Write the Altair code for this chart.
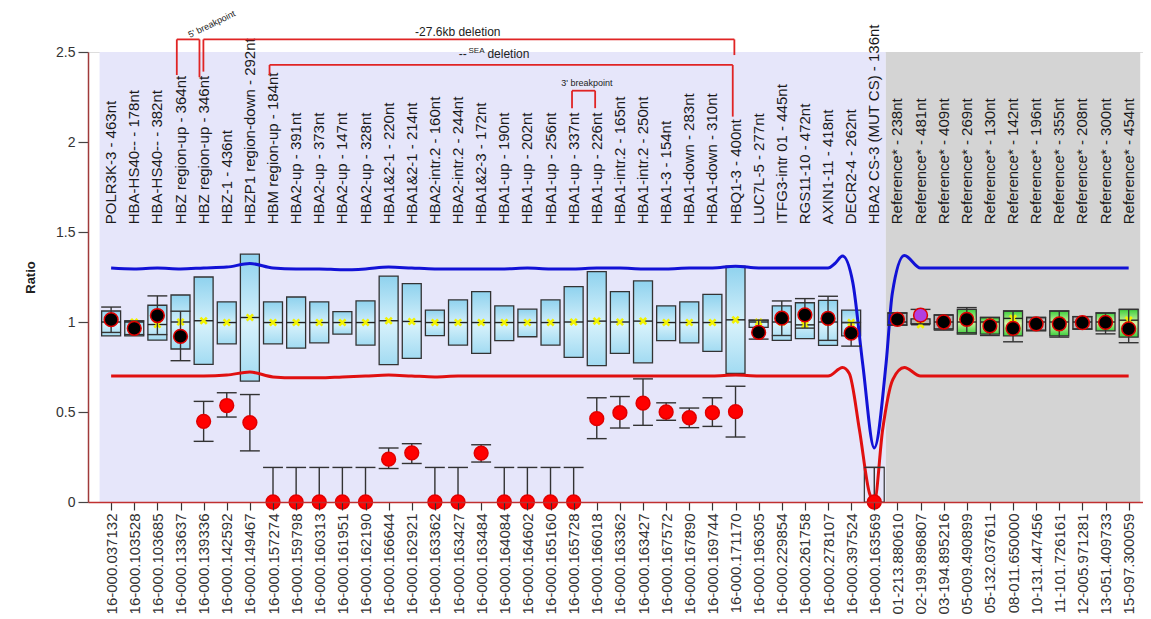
import json
import altair as alt
import pandas as pd

# ---------------- data ----------------
probe_names = [
    "POLR3K-3 - 463nt", "HBA-HS40-- - 178nt", "HBA-HS40-- - 382nt",
    "HBZ region-up - 364nt", "HBZ region-up - 346nt", "HBZ-1 - 436nt",
    "HBZP1 region-down - 292nt", "HBM region-up - 184nt", "HBA2-up - 391nt",
    "HBA2-up - 373nt", "HBA2-up - 147nt", "HBA2-up - 328nt",
    "HBA1&2-1 - 220nt", "HBA1&2-1 - 214nt", "HBA2-intr.2 - 160nt",
    "HBA2-intr.2 - 244nt", "HBA1&2-3 - 172nt", "HBA1-up - 190nt",
    "HBA1-up - 202nt", "HBA1-up - 256nt", "HBA1-up - 337nt",
    "HBA1-up - 226nt", "HBA1-intr.2 - 165nt", "HBA1-intr.2 - 250nt",
    "HBA1-3 - 154nt", "HBA1-down - 283nt", "HBA1-down - 310nt",
    "HBQ1-3 - 400nt", "LUC7L-5 - 277nt", "ITFG3-intr 01 - 445nt",
    "RGS11-10 - 472nt", "AXIN1-11 - 418nt", "DECR2-4 - 262nt",
    "HBA2 CS-3 (MUT CS) - 136nt",
    "Reference* - 238nt", "Reference* - 481nt", "Reference* - 409nt",
    "Reference* - 269nt", "Reference* - 130nt", "Reference* - 142nt",
    "Reference* - 196nt", "Reference* - 355nt", "Reference* - 208nt",
    "Reference* - 300nt", "Reference* - 454nt",
]
probe_ids = [
    "16-000.037132", "16-000.103528", "16-000.103685", "16-000.133637",
    "16-000.139336", "16-000.142592", "16-000.149467", "16-000.157274",
    "16-000.159798", "16-000.160313", "16-000.161951", "16-000.162190",
    "16-000.166644", "16-000.162921", "16-000.163362", "16-000.163427",
    "16-000.163484", "16-000.164084", "16-000.164602", "16-000.165160",
    "16-000.165728", "16-000.166018", "16-000.163362", "16-000.163427",
    "16-000.167572", "16-000.167890", "16-000.169744", "16-000.171170",
    "16-000.196305", "16-000.229854", "16-000.261758", "16-000.278107",
    "16-000.397524", "16-000.163569", "01-213.880610", "02-199.896807",
    "03-194.895216", "05-009.490899", "05-132.037611", "08-011.650000",
    "10-131.447456", "11-101.726161", "12-005.971281", "13-051.409733",
    "15-097.300059",
]
box_lo = [0.923, 0.923, 0.899, 0.85, 0.765, 0.878, 0.671, 0.878, 0.855, 0.884,
          0.933, 0.872, 0.763, 0.798, 0.924, 0.872, 0.826, 0.896, 0.918, 0.872,
          0.804, 0.758, 0.826, 0.773, 0.896, 0.884, 0.837, 0.715, 0.97, 0.898,
          0.908, 0.87, 0.923, 0.0, 0.983, 0.99, 0.961, 0.933, 0.933, 0.923,
          0.951, 0.923, 0.961, 0.951, 0.916]
box_hi = [1.061, 1.006, 1.093, 1.15, 1.25, 1.112, 1.377, 1.112, 1.139, 1.112,
          1.058, 1.117, 1.255, 1.213, 1.066, 1.123, 1.169, 1.09, 1.071, 1.123,
          1.196, 1.28, 1.169, 1.228, 1.09, 1.112, 1.154, 1.31, 1.01, 1.09,
          1.107, 1.12, 1.066, 0.192, 1.05, 1.017, 1.038, 1.07, 1.025, 1.061,
          1.025, 1.061, 1.03, 1.05, 1.07]
box_med = [1.0, 1.0, 0.986, 1.0, 1.007, 0.997, 1.025, 0.997, 0.997, 0.997,
           0.997, 0.997, 1.007, 1.003, 0.997, 0.997, 0.997, 0.997, 0.997, 0.997,
           1.0, 1.005, 1.0, 1.005, 0.997, 0.997, 0.997, 1.012, 1.0, 1.0,
           0.984, 1.0, 0.997, 0.0, 1.0, 0.985, 1.0, 1.0, 1.0, 1.02,
           1.0, 1.0, 1.0, 1.0, 1.01]
ratio = [1.013, 0.965, 1.036, 0.92, 0.448, 0.536, 0.441, 0, 0, 0,
         0, 0, 0.238, 0.273, 0, 0, 0.272, 0, 0, 0,
         0, 0.463, 0.496, 0.549, 0.50, 0.468, 0.496, 0.502, 0.942, 1.021,
         1.04, 1.02, 0.938, 0, 1.015, 1.038, 1.0, 1.015, 0.978, 0.965,
         0.99, 0.99, 0.996, 0.998, 0.962]
err_lo = [0.942, 0.93, 0.93, 0.785, 0.337, 0.472, 0.284, 0, 0, 0,
          0, 0, 0.186, 0.214, 0, 0, 0.222, 0, 0, 0,
          0, 0.352, 0.411, 0.426, 0.454, 0.413, 0.42, 0.361, 0.905, 0.925,
          0.966, 0.898, 0.866, 0, 0.983, 0.99, 0.955, 0.94, 0.925, 0.89,
          0.955, 0.916, 0.96, 0.934, 0.885]
err_hi = [1.083, 1.006, 1.145, 1.06, 0.559, 0.607, 0.597, 0.192, 0.192, 0.192,
          0.192, 0.192, 0.30, 0.324, 0.192, 0.192, 0.318, 0.192, 0.192, 0.192,
          0.192, 0.579, 0.586, 0.684, 0.551, 0.522, 0.579, 0.643, 1.01, 1.117,
          1.13, 1.143, 0.997, 0.192, 1.05, 1.07, 1.04, 1.08, 1.025, 1.061,
          1.025, 1.061, 1.03, 1.05, 1.07]
dot_type = (["normal"] * 4 + ["del"] * 24 + ["normal"] * 5 + ["del"]
            + ["normal", "mark"] + ["normal"] * 9)
box_type = (["blue"] * 33 + ["open", "gray", "gray", "gray", "green", "green",
                             "green", "gray", "green", "gray", "green", "green"])

# upper / lower limit curves
upper_x = list(range(1, 33)) + [32.3, 32.63, 33.07, 33.5, 34, 34.51, 34.78, 35.3] + list(range(36, 46))
upper_y = [1.30, 1.295, 1.30, 1.295, 1.30, 1.305, 1.325, 1.30, 1.295, 1.295,
           1.29, 1.295, 1.305, 1.30, 1.295, 1.295, 1.295, 1.295, 1.30, 1.295,
           1.295, 1.30, 1.30, 1.295, 1.295, 1.30, 1.30, 1.31, 1.30, 1.30,
           1.30, 1.30,
           1.325, 1.366, 1.22, 0.767, 0.30, 0.77, 1.16, 1.37] + [1.30] * 10
lower_x = list(range(1, 33)) + [32.63, 32.92, 33.36, 33.79, 34, 34.36, 34.8, 35.3] + list(range(36, 46))
lower_y = [0.70, 0.70, 0.70, 0.70, 0.70, 0.705, 0.722, 0.695, 0.69, 0.69,
           0.695, 0.70, 0.705, 0.70, 0.695, 0.70, 0.70, 0.70, 0.70, 0.70,
           0.70, 0.70, 0.70, 0.70, 0.70, 0.70, 0.70, 0.705, 0.70, 0.70,
           0.70, 0.70,
           0.747, 0.714, 0.40, 0.05, 0.0, 0.40, 0.68, 0.747] + [0.70] * 10

# annotation brackets: left x, right x, top level, left bottom, right bottom
br_x0 = [3.84, 4.99, 7.85, 20.93]
br_x1 = [4.82, 27.95, 27.88, 21.93]
br_top = [2.570, 2.570, 2.428, 2.285]
br_b0 = [2.372, 2.391, 2.372, 2.188]
br_b1 = [2.360, 2.483, 2.141, 2.188]

ann_text = ["5' breakpoint", "-27.6kb deletion", "--", "SEA", "deletion", "3' breakpoint"]
ann_x = [5.35, 15.99, 16.21, 16.80, 18.18, 21.57]
ann_y = [2.655, 2.613, 2.489, 2.505, 2.489, 2.330]
ann_size = [9, 12, 12, 8, 12, 9]
ann_angle = [334, 0, 0, 0, 0, 0]

region_x0 = [0.5, 34.5]
region_x1 = [34.5, 45.5]
region_fill = ["#e6e6fa", "#d4d4d4"]

# ---------------- chart ----------------
N = len(probe_names)
pos = list(range(1, N + 1))
XMAX = 45.62
FONT = "Liberation Sans"
LABEL_Y = 1.543

df = pd.DataFrame(dict(pos=pos, name=probe_names, lo=box_lo, hi=box_hi, med=box_med,
                       ratio=ratio, el=err_lo, eh=err_hi, dot=dot_type, box=box_type))
up_df = pd.DataFrame(dict(x=upper_x, y=upper_y))
lo_df = pd.DataFrame(dict(x=lower_x, y=lower_y))
br_df = pd.DataFrame(dict(x0=br_x0, x1=br_x1, top=br_top, b0=br_b0, b1=br_b1))
ann_df = pd.DataFrame(dict(x=ann_x, y=ann_y, text=ann_text, size=ann_size, angle=ann_angle))
bg_df = pd.DataFrame(dict(x0=region_x0, x1=region_x1, y0=[0, 0], y1=[2.5, 2.5], fill=region_fill))

label_expr = "[" + ",".join(json.dumps(s) for s in probe_ids) + "][round(datum.value) - 1]"

xscale = alt.Scale(domain=[0, XMAX], nice=False, zero=False)
yscale = alt.Scale(domain=[0, 2.5], nice=False, zero=False)
xaxis = alt.Axis(values=pos, labelExpr=label_expr, labelAngle=-90, title=None,
                 labelFont=FONT, labelFontSize=15, labelColor="#333333",
                 labelOverlap=False, labelFlush=False, labelBound=False,
                 tickSize=8, tickColor="#333333", tickWidth=1.2, labelPadding=3,
                 domainColor="#c03030", domainWidth=1.5, grid=False, zindex=1)
yaxis = alt.Axis(values=[0, 0.5, 1, 1.5, 2, 2.5], format="~g", title="Ratio",
                 titleFont=FONT, titleFontSize=13, titleFontWeight="bold",
                 titleColor="#222222", titlePadding=18,
                 labelFont=FONT, labelFontSize=14, labelColor="#333333",
                 tickSize=10, tickColor="#444444", tickWidth=1.2, labelPadding=3,
                 domainColor="#a03a3a", domainWidth=1.5, grid=False, zindex=1)


def X(f):
    return alt.X(f, type="quantitative", scale=xscale, axis=xaxis)


def Y(f):
    return alt.Y(f, type="quantitative", scale=yscale, axis=yaxis)


blue_grad = alt.Gradient(gradient="linear", x1=0, x2=0, y1=0, y2=1, stops=[
    alt.GradientStop(color="#8fd2ee", offset=0),
    alt.GradientStop(color="#d6f1fb", offset=0.55),
    alt.GradientStop(color="#a2dbf2", offset=1)])
green_grad = alt.Gradient(gradient="linear", x1=0, x2=0, y1=0, y2=1, stops=[
    alt.GradientStop(color="#3ccf3c", offset=0),
    alt.GradientStop(color="#d8f5a8", offset=0.5),
    alt.GradientStop(color="#3ccf3c", offset=1)])

bg = alt.Chart(bg_df).mark_rect().encode(
    x=X("x0"), x2=alt.X2("x1"), y=Y("y0"), y2=alt.Y2("y1"),
    color=alt.Color("fill:N", scale=None))

base = alt.Chart(df).transform_calculate(
    bx0="datum.pos - 0.41", bx1="datum.pos + 0.41",
    cx0="datum.pos - 0.43", cx1="datum.pos + 0.43", ly=str(LABEL_Y))

box_enc = dict(x=X("bx0"), x2=alt.X2("bx1"), y=Y("lo"), y2=alt.Y2("hi"))
blue_boxes = base.transform_filter("datum.box == 'blue'").mark_rect(
    fill=blue_grad, stroke="#333333", strokeWidth=1.3).encode(**box_enc)
green_boxes = base.transform_filter("datum.box == 'green'").mark_rect(
    fill=green_grad, stroke="#333333", strokeWidth=1.3).encode(**box_enc)
gray_boxes = base.transform_filter("datum.box == 'gray'").mark_rect(
    fill="#b4b4b4", stroke="#222222", strokeWidth=1.3).encode(**box_enc)
open_boxes = base.transform_filter("datum.box == 'open'").mark_rect(
    fillOpacity=0, stroke="#333333", strokeWidth=1.2).encode(
    x=X("cx0"), x2=alt.X2("cx1"), y=Y("lo"), y2=alt.Y2("hi"))

med_rule = base.transform_filter("datum.box != 'open'").mark_rule(
    color="#222222", strokeWidth=1.4).encode(x=X("bx0"), x2=alt.X2("bx1"), y=Y("med"))
med_x = base.transform_filter("datum.box != 'open'").mark_point(
    shape="M-1,-1L1,1M-1,1L1,-1", filled=False, color="#f2f200",
    strokeWidth=2.6, size=40, opacity=1).encode(x=X("pos"), y=Y("med"))

upper_line = alt.Chart(up_df).mark_line(
    color="#1212d6", strokeWidth=3, interpolate="monotone").encode(x=X("x"), y=Y("y"))
lower_line = alt.Chart(lo_df).mark_line(
    color="#e01010", strokeWidth=3, interpolate="monotone").encode(x=X("x"), y=Y("y"))

err_v = base.mark_rule(color="#333333", strokeWidth=1.4).encode(
    x=X("pos"), y=Y("el"), y2=alt.Y2("eh"))
err_top = base.mark_rule(color="#333333", strokeWidth=1.4).encode(
    x=X("cx0"), x2=alt.X2("cx1"), y=Y("eh"))
err_bot = base.transform_filter("datum.el > 0").mark_rule(
    color="#333333", strokeWidth=1.4).encode(x=X("cx0"), x2=alt.X2("cx1"), y=Y("el"))

dots = base.mark_point(filled=True, size=190, stroke="#e00000", strokeWidth=1.5,
                       opacity=1).encode(
    x=X("pos"), y=Y("ratio"),
    fill=alt.Fill("dot:N", scale=alt.Scale(domain=["normal", "del", "mark"],
                                           range=["#000000", "#ff0000", "#b040e0"]),
                  legend=None))

top_labels = base.mark_text(angle=270, align="left", baseline="middle", fontSize=15,
                            font=FONT, color="#1a1a1a").encode(
    x=X("pos"), y=Y("ly:Q"), text="name:N")

br_style = dict(color="#e02424", strokeWidth=1.8)
br_h = alt.Chart(br_df).mark_rule(**br_style).encode(x=X("x0"), x2=alt.X2("x1"), y=Y("top"))
br_l = alt.Chart(br_df).mark_rule(**br_style).encode(x=X("x0"), y=Y("b0"), y2=alt.Y2("top"))
br_r = alt.Chart(br_df).mark_rule(**br_style).encode(x=X("x1"), y=Y("b1"), y2=alt.Y2("top"))

ann = alt.Chart(ann_df).mark_text(align="center", baseline="middle", font=FONT,
                                  color="#222222").encode(
    x=X("x"), y=Y("y"), text="text:N",
    size=alt.Size("size:Q", scale=None), angle=alt.Angle("angle:Q", scale=None))

chart = alt.layer(
    bg, blue_boxes, green_boxes, gray_boxes, open_boxes, med_rule, med_x,
    upper_line, lower_line, err_v, err_top, err_bot, dots, top_labels,
    br_h, br_l, br_r, ann,
).properties(
    width=1055, height=450,
    autosize=alt.AutoSizeParams(type="none"),
    padding={"left": 80, "top": 44, "right": 0, "bottom": 112},
).configure_view(stroke=None).configure(background="#ffffff")

chart.save("out.html", embed_options={"renderer": "svg", "actions": False})
